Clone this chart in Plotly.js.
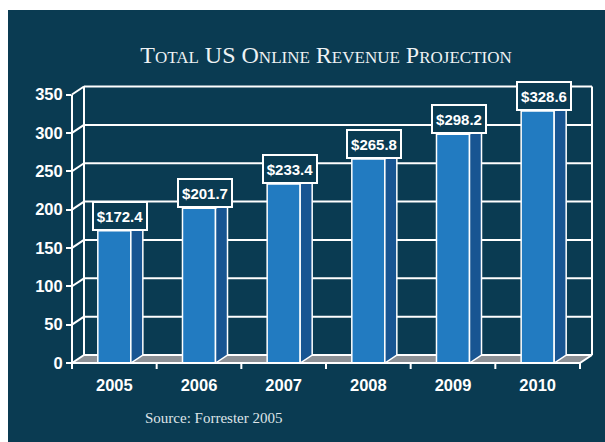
<!DOCTYPE html>
<html>
<head>
<meta charset="utf-8">
<script src="https://cdn.plot.ly/plotly-3.0.1.min.js"></script>
<style>html,body{margin:0;padding:0;background:#fff;}#chart{width:605px;height:442px;}</style>
</head>
<body>
<div id="chart"></div>
<script>
// ---- data ----
const years = ['2005', '2006', '2007', '2008', '2009', '2010'];
const revenue = [172.4, 201.7, 233.4, 265.8, 298.2, 328.6];
const valueLabels = revenue.map(v => '$' + v.toFixed(1));
const yTicks = [0, 50, 100, 150, 200, 250, 300, 350];

// ---- geometry / style ----
const BG = '#0a3b52';
const FRONT = '#227bc1';
const SIDE = '#185592';
const FLOOR = '#8d9196';
const W = 605, H = 442;
const M = {l: 72, r: 13, t: 86, b: 79};
const PW = W - M.l - M.r, PH = H - M.t - M.b;
const XR = [-0.5, 5.6417];
const YR = [0, 361.1];
const DX = 0.1417;   // depth offset in x units
const DY = 10.4;     // depth offset in y units
const HW = 0.195;    // half bar width
const xs = years.map((_, i) => i);

const fx = x => (x - XR[0]) / (XR[1] - XR[0]);
const fy = y => (y - YR[0]) / (YR[1] - YR[0]);
const pX = p => (p - M.l) / PW;
const pY = p => (H - M.b - p) / PH;

const shapes = [];
const addLine = (x0, y0, x1, y1, layer, w) => shapes.push({type: 'line', xref: 'paper', yref: 'paper',
  x0: fx(x0), y0: fy(y0), x1: fx(x1), y1: fy(y1), layer: layer || 'below',
  line: {color: '#ffffff', width: w || 2}});

// white margin strips (top and left)
shapes.push({type: 'rect', xref: 'paper', yref: 'paper', x0: pX(0), x1: pX(W), y0: pY(0), y1: pY(10),
  fillcolor: '#ffffff', line: {width: 0}, layer: 'below'});
shapes.push({type: 'rect', xref: 'paper', yref: 'paper', x0: pX(0), x1: pX(8), y0: pY(0), y1: pY(H),
  fillcolor: '#ffffff', line: {width: 0}, layer: 'below'});

const xLeft = -0.5, xRight = years.length - 0.5, yTop = yTicks[yTicks.length - 1];
// floor
shapes.push({type: 'path', xref: 'paper', yref: 'paper', layer: 'below',
  path: `M${fx(xLeft)},${fy(0)} L${fx(xRight)},${fy(0)} L${fx(xRight + DX)},${fy(DY)} L${fx(xLeft + DX)},${fy(DY)} Z`,
  fillcolor: FLOOR, line: {width: 0}});
// back wall grid
yTicks.forEach(t => {
  addLine(xLeft + DX, t + DY, xRight + DX, t + DY);
  addLine(xLeft, t, xLeft + DX, t + DY);
});
addLine(xLeft + DX, DY, xLeft + DX, yTop + DY);
addLine(xRight + DX, DY, xRight + DX, yTop + DY);
addLine(xLeft, 0, xLeft, yTop);
addLine(xRight, 0, xRight + DX, DY);
addLine(xLeft, 0, xRight, 0, 'above');
// x boundary ticks
for (let k = 0; k <= years.length; k++) {
  const xv = xLeft + k;
  shapes.push({type: 'line', xref: 'paper', yref: 'paper', x0: fx(xv), x1: fx(xv), y0: 0, y1: -6 / PH,
    line: {color: '#ffffff', width: 2}});
}

// side faces polygon from data
const sx = [], sy = [];
xs.forEach((x, i) => {
  const v = revenue[i];
  sx.push(x + HW, x + HW + DX, x + HW + DX, x + HW, x + HW, null);
  sy.push(0, DY, v + DY, v, 0, null);
});

const traces = [
  {type: 'scatter', mode: 'lines', x: sx, y: sy, fill: 'toself', fillcolor: SIDE,
   line: {color: '#ffffff', width: 1.5}, hoverinfo: 'skip', showlegend: false},
  {type: 'bar', x: xs, y: revenue, width: 2 * HW, marker: {color: FRONT, line: {color: '#ffffff', width: 1.5}},
   showlegend: false}
];

const annotations = xs.map((x, i) => ({
  x: x + DX / 2, y: revenue[i], xref: 'x', yref: 'y', yanchor: 'bottom', xanchor: 'center',
  text: valueLabels[i], showarrow: false, width: 50, height: 24,
  font: {family: 'Liberation Sans, Arial, sans-serif', size: 15, color: '#ffffff', weight: 'bold'},
  bgcolor: BG, bordercolor: '#ffffff', borderwidth: 2, borderpad: 1
}));
annotations.push({
  xref: 'paper', yref: 'paper', x: pX(143), y: pY(418), xanchor: 'left', yanchor: 'middle',
  text: 'Source: Forrester 2005', showarrow: false,
  font: {family: 'Liberation Serif, serif', size: 15, color: '#dfe5e9'}
});

const layout = {
  width: W, height: H,
  margin: M,
  paper_bgcolor: BG,
  plot_bgcolor: 'rgba(0,0,0,0)',
  title: {text: 'Total US Online Revenue Projection', xref: 'container', yref: 'container',
    x: 326 / W, y: 1 - 55 / H, xanchor: 'center', yanchor: 'middle',
    font: {family: 'Liberation Serif, serif', size: 24, color: '#eef2f4', variant: 'small-caps'}},
  xaxis: {range: XR, tickvals: xs, ticktext: years, showgrid: false, zeroline: false, showline: false,
    ticks: '', ticklabelstandoff: 10,
    tickfont: {family: 'Liberation Sans, Arial, sans-serif', size: 16.5, color: '#ffffff', weight: 'bold'}},
  yaxis: {range: YR, tickvals: yTicks, showgrid: false, zeroline: false, showline: false,
    ticks: 'outside', ticklen: 5, tickwidth: 2, tickcolor: '#ffffff',
    tickfont: {family: 'Liberation Sans, Arial, sans-serif', size: 16.5, color: '#ffffff', weight: 'bold'}},
  shapes: shapes,
  annotations: annotations,
  bargap: 0
};

Plotly.newPlot('chart', traces, layout, {displayModeBar: false, staticPlot: true});
</script>
</body>
</html>
